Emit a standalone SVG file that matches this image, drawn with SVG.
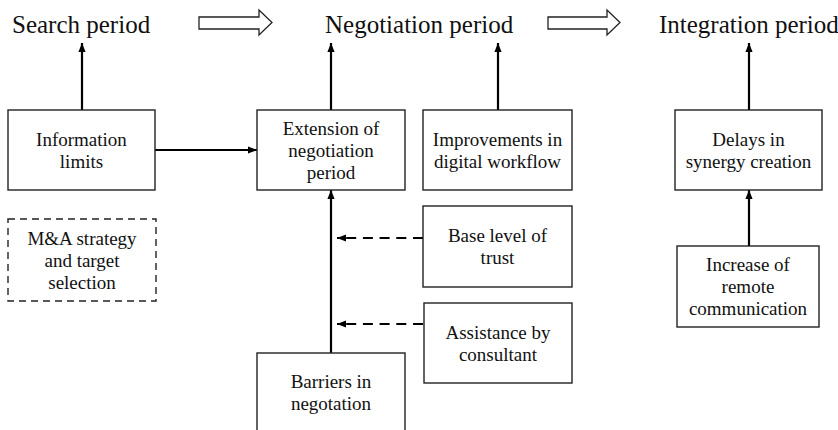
<svg xmlns="http://www.w3.org/2000/svg" width="838" height="430" viewBox="0 0 838 430">
<style>
text{font-family:"Liberation Serif","Times New Roman",serif;fill:#111}
.t{font-size:19px;text-anchor:middle}
.h{font-size:25px}
.b{fill:#fff;stroke:#222;stroke-width:1.4}
.d{fill:#fff;stroke:#222;stroke-width:1.4;stroke-dasharray:7 5}
.c{fill:none;stroke:#000;stroke-width:2.2}
.cd{fill:none;stroke:#000;stroke-width:2.2;stroke-dasharray:10 6.7}
.ha{fill:#fff;stroke:#222;stroke-width:1.3}
</style>
<defs>
<marker id="ah" viewBox="0 0 10 8" refX="10" refY="4" markerWidth="4.2" markerHeight="3.4" orient="auto" markerUnits="strokeWidth">
<path d="M0,0 L10,4 L0,8 Z" fill="#000"/>
</marker>
</defs>
<g id="headers">
<text class="h" x="12" y="33">Search period</text>
<text class="h" x="325" y="33">Negotiation period</text>
<text class="h" x="659" y="33">Integration period</text>
<path class="ha" d="M199,17 L259,17 L259,10 L272,22.5 L259,35 L259,29 L199,29 Z"/>
<path class="ha" d="M548,17 L607,17 L607,10 L620,22.5 L607,35 L607,29 L548,29 Z"/>
</g>
<g id="connectors">
<line class="c" x1="82" y1="110" x2="82" y2="43" marker-end="url(#ah)"/>
<line class="c" x1="331" y1="110" x2="331" y2="43" marker-end="url(#ah)"/>
<line class="c" x1="498" y1="110" x2="498" y2="43" marker-end="url(#ah)"/>
<line class="c" x1="749" y1="110" x2="749" y2="43" marker-end="url(#ah)"/>
<line class="c" x1="155" y1="150" x2="257" y2="150" marker-end="url(#ah)"/>
<line class="c" x1="331" y1="353" x2="331" y2="190" marker-end="url(#ah)"/>
<line class="c" x1="749" y1="246" x2="749" y2="190" marker-end="url(#ah)"/>
<line class="cd" x1="423" y1="238" x2="337" y2="238" marker-end="url(#ah)"/>
<line class="cd" x1="423" y1="324" x2="337" y2="324" marker-end="url(#ah)"/>
</g>
<g id="info">
<rect class="b" x="8" y="110" width="147" height="80"/>
<text class="t" x="81.5" y="146">Information</text>
<text class="t" x="81.5" y="168">limits</text>
</g>
<g id="extension">
<rect class="b" x="257" y="110" width="148" height="80"/>
<text class="t" x="331" y="135">Extension of</text>
<text class="t" x="331" y="157">negotiation</text>
<text class="t" x="331" y="179">period</text>
</g>
<g id="improvements">
<rect class="b" x="423" y="110" width="149" height="80"/>
<text class="t" x="497.5" y="146">Improvements in</text>
<text class="t" x="497.5" y="168">digital workflow</text>
</g>
<g id="delays">
<rect class="b" x="675" y="110" width="147" height="80"/>
<text class="t" x="748.5" y="146">Delays in</text>
<text class="t" x="748.5" y="168">synergy creation</text>
</g>
<g id="mna">
<rect class="d" x="8" y="219" width="148" height="82"/>
<text class="t" x="82" y="245">M&amp;A strategy</text>
<text class="t" x="82" y="267">and target</text>
<text class="t" x="82" y="289">selection</text>
</g>
<g id="trust">
<rect class="b" x="423" y="206" width="149" height="81"/>
<text class="t" x="497.5" y="242">Base level of</text>
<text class="t" x="497.5" y="264">trust</text>
</g>
<g id="consultant">
<rect class="b" x="424" y="303" width="148" height="80"/>
<text class="t" x="498" y="339">Assistance by</text>
<text class="t" x="498" y="361">consultant</text>
</g>
<g id="remote">
<rect class="b" x="677" y="246" width="142" height="81"/>
<text class="t" x="748" y="271">Increase of</text>
<text class="t" x="748" y="293">remote</text>
<text class="t" x="748" y="315">communication</text>
</g>
<g id="barriers">
<rect class="b" x="257" y="353" width="148" height="85"/>
<text class="t" x="331" y="388">Barriers in</text>
<text class="t" x="331" y="410">negotation</text>
</g>
</svg>
